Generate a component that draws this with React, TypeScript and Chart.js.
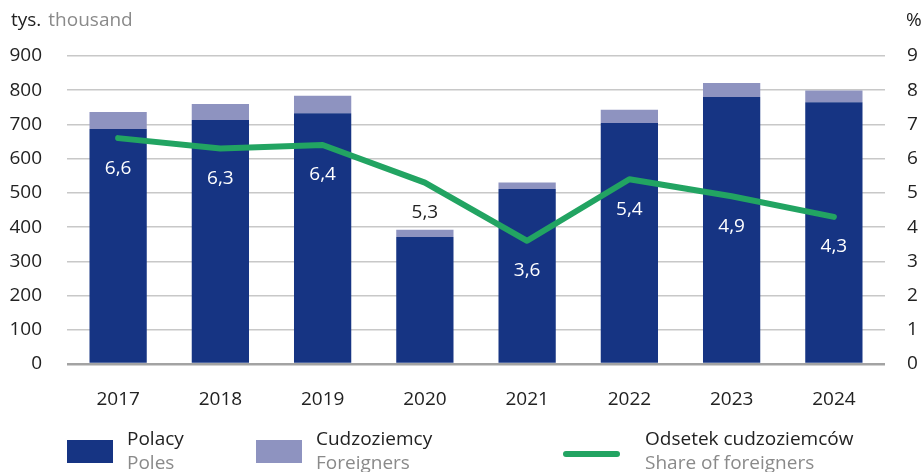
import React, { useEffect, useRef } from 'react';
import { Chart, registerables } from 'chart.js';

Chart.register(...registerables);

const years = ['2017', '2018', '2019', '2020', '2021', '2022', '2023', '2024'];
const poles = [687, 713, 733, 371, 511, 704, 780, 765];
const foreigners = [49, 47, 51, 21, 19, 39, 41, 34];
const shareOfForeigners = [6.6, 6.3, 6.4, 5.3, 3.6, 5.4, 4.9, 4.3];
const leftAxisMax = 900;
const rightAxisMax = 9;

const NAVY = '#163483';
const LILAC = '#8e93c0';
const GREEN = '#22a462';
const FONT = '"Open Sans", "Noto Sans", sans-serif';

const valueLabels = {
  id: 'valueLabels',
  afterDatasetsDraw(chart: any) {
    const ctx = chart.ctx;
    const lineMeta = chart.getDatasetMeta(2);
    const barMeta = chart.getDatasetMeta(1);
    ctx.save();
    ctx.font = `19px ${FONT}`;
    ctx.textAlign = 'center';
    ctx.textBaseline = 'middle';
    lineMeta.data.forEach((pt: any, i: number) => {
      const y = pt.y + 30;
      const bar = barMeta.data[i];
      const inside = bar && y - 10 > bar.y;
      ctx.fillStyle = inside ? '#ffffff' : '#222222';
      ctx.fillText(shareOfForeigners[i].toFixed(1).replace('.', ','), pt.x, y);
    });
    ctx.restore();
  },
};

export default function App() {
  const ref = useRef<HTMLCanvasElement | null>(null);

  useEffect(() => {
    if (!ref.current) return;
    const chart = new Chart(ref.current, {
      type: 'bar',
      data: {
        labels: years,
        datasets: [
          {
            label: 'Polacy',
            data: poles,
            backgroundColor: NAVY,
            yAxisID: 'y',
            stack: 's',
            order: 1,
            categoryPercentage: 1,
            barPercentage: 0.56,
          },
          {
            label: 'Cudzoziemcy',
            data: foreigners,
            backgroundColor: LILAC,
            yAxisID: 'y',
            stack: 's',
            order: 2,
            categoryPercentage: 1,
            barPercentage: 0.56,
          },
          {
            type: 'line',
            label: 'Odsetek cudzoziemców',
            data: shareOfForeigners,
            borderColor: GREEN,
            backgroundColor: GREEN,
            borderWidth: 6,
            borderCapStyle: 'round',
            borderJoinStyle: 'round',
            pointRadius: 0,
            yAxisID: 'y1',
            order: 0,
          } as any,
        ],
      },
      options: {
        responsive: false,
        animation: false,
        layout: { padding: { top: 56, left: 0, right: 0, bottom: 0 } },
        plugins: {
          legend: { display: false },
          tooltip: { enabled: false },
        },
        scales: {
          x: {
            stacked: true,
            grid: { display: false },
            border: { display: false },
            ticks: {
              color: '#222',
              font: { family: FONT, size: 19 },
              padding: 16,
            },
            afterFit: (s: any) => {
              s.height = 108;
            },
          },
          y: {
            stacked: true,
            position: 'left',
            min: 0,
            max: leftAxisMax,
            border: { display: false },
            grid: {
              drawTicks: false,
              color: (c: any) => (c.tick && c.tick.value === 0 ? '#a3a3a3' : '#c8c8c8'),
              lineWidth: (c: any) => (c.tick && c.tick.value === 0 ? 2.5 : 1.5),
            },
            ticks: {
              stepSize: 100,
              color: '#222',
              font: { family: FONT, size: 19 },
              padding: 25,
            },
            afterFit: (s: any) => {
              s.width = 67;
            },
          },
          y1: {
            position: 'right',
            min: 0,
            max: rightAxisMax,
            border: { display: false },
            grid: { drawOnChartArea: false, drawTicks: false },
            ticks: {
              stepSize: 1,
              color: '#222',
              font: { family: FONT, size: 19 },
              padding: 22,
            },
            afterFit: (s: any) => {
              s.width = 39;
            },
          },
        },
      },
      plugins: [valueLabels],
    });
    return () => chart.destroy();
  }, []);

  const txt: React.CSSProperties = {
    position: 'absolute',
    fontFamily: FONT,
    fontSize: 19,
    lineHeight: '24px',
    whiteSpace: 'nowrap',
    margin: 0,
  };

  const legendItem = (textLeft: number, pl: string, en: string, swatch: React.ReactNode) => (
    <>
      {swatch}
      <div style={{ ...txt, left: textLeft, top: 426 }}>
        <div style={{ color: '#222' }}>{pl}</div>
        <div style={{ color: '#8a8a8a' }}>{en}</div>
      </div>
    </>
  );

  return (
    <div
      style={{
        position: 'fixed',
        left: 0,
        top: 0,
        width: 924,
        height: 472,
        overflow: 'hidden',
        background: '#fff',
      }}
    >
      <canvas ref={ref} width={924} height={472} style={{ position: 'absolute', left: 0, top: 0 }} />
      <div style={{ ...txt, left: 11, top: 7 }}>
        <span style={{ color: '#222' }}>tys.</span>
        <span style={{ color: '#8a8a8a', marginLeft: 7 }}>thousand</span>
      </div>
      <div style={{ ...txt, left: 906, top: 7, color: '#222' }}>%</div>
      {legendItem(
        127,
        'Polacy',
        'Poles',
        <div style={{ position: 'absolute', left: 67, top: 440, width: 46, height: 23, background: NAVY }} />
      )}
      {legendItem(
        316,
        'Cudzoziemcy',
        'Foreigners',
        <div style={{ position: 'absolute', left: 256, top: 440, width: 46, height: 23, background: LILAC }} />
      )}
      {legendItem(
        645,
        'Odsetek cudzoziemców',
        'Share of foreigners',
        <div
          style={{
            position: 'absolute',
            left: 563,
            top: 451,
            width: 57,
            height: 6,
            borderRadius: 3,
            background: GREEN,
          }}
        />
      )}
    </div>
  );
}
